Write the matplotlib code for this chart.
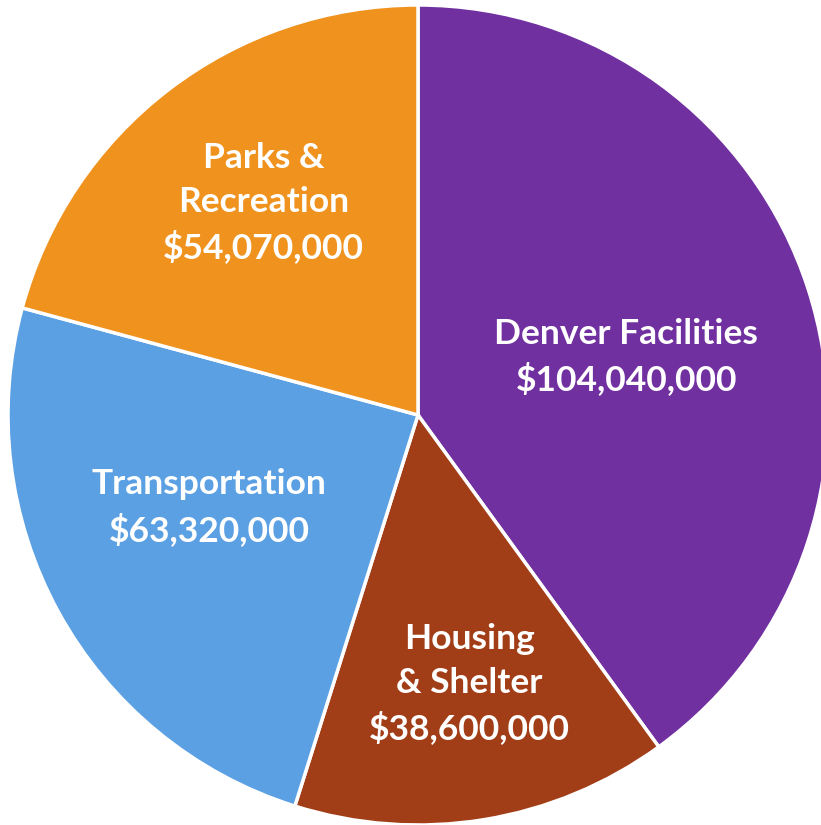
import numpy as np
import matplotlib
matplotlib.use("Agg")
import matplotlib.pyplot as plt

categories = ["Denver Facilities", "Housing\n& Shelter", "Transportation", "Parks &\nRecreation"]
values = [104040000, 38600000, 63320000, 54070000]
colors = ["#7030A0", "#A23E17", "#5BA0E3", "#F0921E"]
label_dist = [0.527, 0.668, 0.557, 0.64]
label_shift = [-2.4, 1.6, -4.8, -1.3]

W, H = 821, 825
fig = plt.figure(figsize=(W / 100, H / 100), dpi=100)
cx, cy, r = 418, 415, 410
ax = fig.add_axes([(cx - r) / W, (H - cy - r) / H, 2 * r / W, 2 * r / H])

wedges, _ = ax.pie(values, colors=colors, startangle=90, counterclock=False,
                   radius=1, frame=True,
                   wedgeprops=dict(edgecolor="white", linewidth=2.5))
ax.set_xlim(-1, 1)
ax.set_ylim(-1, 1)
ax.axis("off")

for w, cat, val, d, s in zip(wedges, categories, values, label_dist, label_shift):
    mid = np.deg2rad((w.theta1 + w.theta2) / 2 + s)
    x, y = d * np.cos(mid), d * np.sin(mid)
    ax.text(x, y, f"{cat}\n${val:,.0f}", ha="center", va="center",
            color="white", fontsize=25.5, fontweight="bold", family="Lato",
            linespacing=1.44)

fig.savefig("out.png", dpi=100)
